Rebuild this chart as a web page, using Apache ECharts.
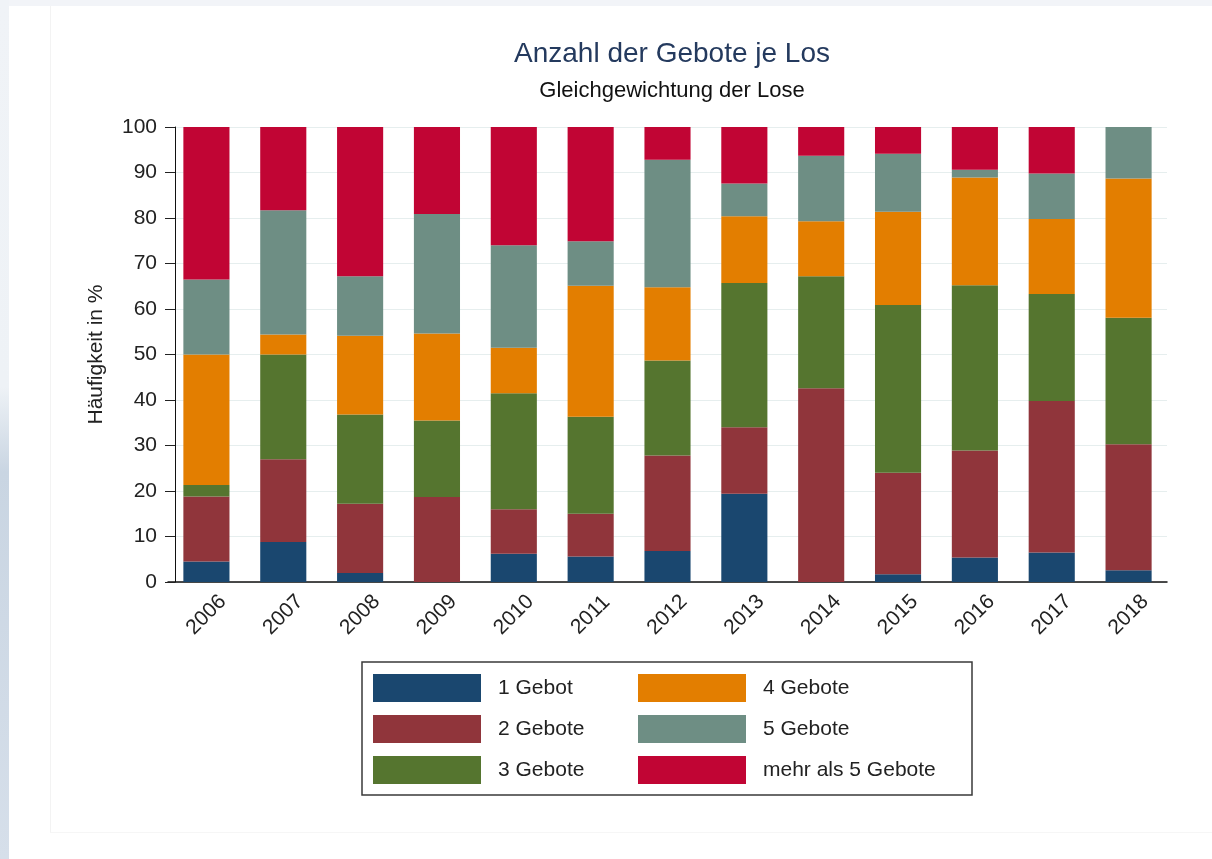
<!DOCTYPE html>
<html>
<head>
<meta charset="utf-8">
<title>Anzahl der Gebote je Los</title>
<script src="https://cdn.jsdelivr.net/npm/echarts@6/dist/echarts.min.js"></script>
<style>
  html, body { margin: 0; padding: 0; background: #ffffff; }
  .page { position: relative; width: 1212px; height: 859px; overflow: hidden; }
  .strip-top { position: absolute; left: 0; top: 0; width: 1212px; height: 6px; background: #f2f4f8; }
  .strip-left { position: absolute; left: 0; top: 0; width: 9px; height: 859px;
    background: linear-gradient(#f0f3f7 0%, #eef2f6 45%, #c9d5e2 55%, #d6dfea 100%); }
  .panel-edge { position: absolute; left: 50px; top: 6px; width: 1162px; height: 826px;
    border-left: 1px solid #f3f3f3; border-bottom: 1px solid #f6f6f6; }
  #chart { position: absolute; left: 0; top: 0; width: 1212px; height: 859px; }
</style>
</head>
<body>
<div class="page">
  <div class="strip-top"></div>
  <div class="strip-left"></div>
  <div class="panel-edge"></div>
  <div id="chart"></div>
</div>
<script>
// Jahre
const years = ['2006', '2007', '2008', '2009', '2010', '2011', '2012',
  '2013', '2014', '2015', '2016', '2017', '2018'];

// Anteile in % je Jahr
const gebot1 = [4.5, 8.8, 2.0, 0, 6.2, 5.6, 6.8, 19.4, 0, 1.7, 5.4, 6.5, 2.6];
const gebote2 = [14.3, 18.2, 15.2, 18.7, 9.8, 9.4, 21.0, 14.6, 42.6, 22.3, 23.5, 33.3, 27.7];
const gebote3 = [2.5, 23.0, 19.6, 16.8, 25.5, 21.3, 20.9, 31.7, 24.6, 36.9, 36.3, 23.5, 27.8];
const gebote4 = [28.7, 4.4, 17.3, 19.1, 10.0, 28.8, 16.1, 14.7, 12.1, 20.5, 23.7, 16.5, 30.6];
const gebote5 = [16.5, 27.3, 13.1, 26.3, 22.5, 9.8, 28.0, 7.2, 14.4, 12.7, 1.7, 10.0, 11.3];
const mehrAls5 = [33.5, 18.3, 32.8, 19.1, 26.0, 25.1, 7.2, 12.4, 6.3, 5.9, 9.4, 10.2, 0];

const seriesNames = ['1 Gebot', '2 Gebote', '3 Gebote', '4 Gebote', '5 Gebote', 'mehr als 5 Gebote'];
const seriesData = [gebot1, gebote2, gebote3, gebote4, gebote5, mehrAls5];
const colors = ['#1a476f', '#90353b', '#55752f', '#e37e00', '#6e8e84', '#c10534'];

const yTicks = [0, 10, 20, 30, 40, 50, 60, 70, 80, 90, 100];

const font = 'Liberation Sans, Arial, sans-serif';
const chart = echarts.init(document.getElementById('chart'));

const legendBase = {
  orient: 'vertical',
  top: 674,
  padding: 0,
  itemWidth: 108,
  itemHeight: 28,
  itemGap: 13,
  icon: 'rect',
  selectedMode: false,
  textStyle: { fontFamily: font, fontSize: 21, color: '#222', padding: [0, 0, 0, 12] }
};

chart.setOption({
  animation: false,
  color: colors,
  title: [
    {
      text: 'Anzahl der Gebote je Los',
      left: 667, top: 35, textAlign: 'center',
      textStyle: { fontFamily: font, fontSize: 28, fontWeight: 'normal', color: '#243a5e' }
    },
    {
      text: 'Gleichgewichtung der Lose',
      left: 667, top: 75, textAlign: 'center',
      textStyle: { fontFamily: font, fontSize: 22, fontWeight: 'normal', color: '#111' }
    }
  ],
  legend: [
    Object.assign({}, legendBase, { left: 373, data: seriesNames.slice(0, 3) }),
    Object.assign({}, legendBase, { left: 638, data: seriesNames.slice(3) })
  ],
  graphic: [{
    type: 'rect',
    shape: { x: 362, y: 662, width: 610, height: 133 },
    style: { fill: 'none', stroke: '#3a3a3a', lineWidth: 1.5 }
  }],
  grid: { left: 168, right: 45, top: 127, bottom: 277 },
  xAxis: {
    type: 'category',
    data: years,
    axisLine: { lineStyle: { color: '#111', width: 1.5 } },
    axisTick: { show: false },
    axisLabel: {
      rotate: 45, align: 'center', verticalAlign: 'middle', margin: 33,
      fontFamily: font, fontSize: 21, color: '#222'
    }
  },
  yAxis: {
    type: 'value',
    min: 0, max: 100, interval: 10,
    offset: -7,
    name: 'Häufigkeit in %',
    nameLocation: 'middle',
    nameGap: 68,
    nameTextStyle: { fontFamily: font, fontSize: 21, color: '#222' },
    axisLine: { show: true, lineStyle: { color: '#111', width: 1 } },
    axisTick: { show: true, length: 10, lineStyle: { color: '#222' } },
    axisLabel: {
      margin: 18, fontFamily: font, fontSize: 21, color: '#222',
      formatter: v => (yTicks.indexOf(v) >= 0 ? String(v) : '')
    },
    splitLine: { show: true, lineStyle: { color: '#e6eeee', width: 1 } }
  },
  series: seriesNames.map((name, i) => ({
    name: name,
    type: 'bar',
    stack: 'anteil',
    barWidth: '60%',
    data: seriesData[i],
    itemStyle: { color: colors[i] }
  }))
});
</script>
</body>
</html>
